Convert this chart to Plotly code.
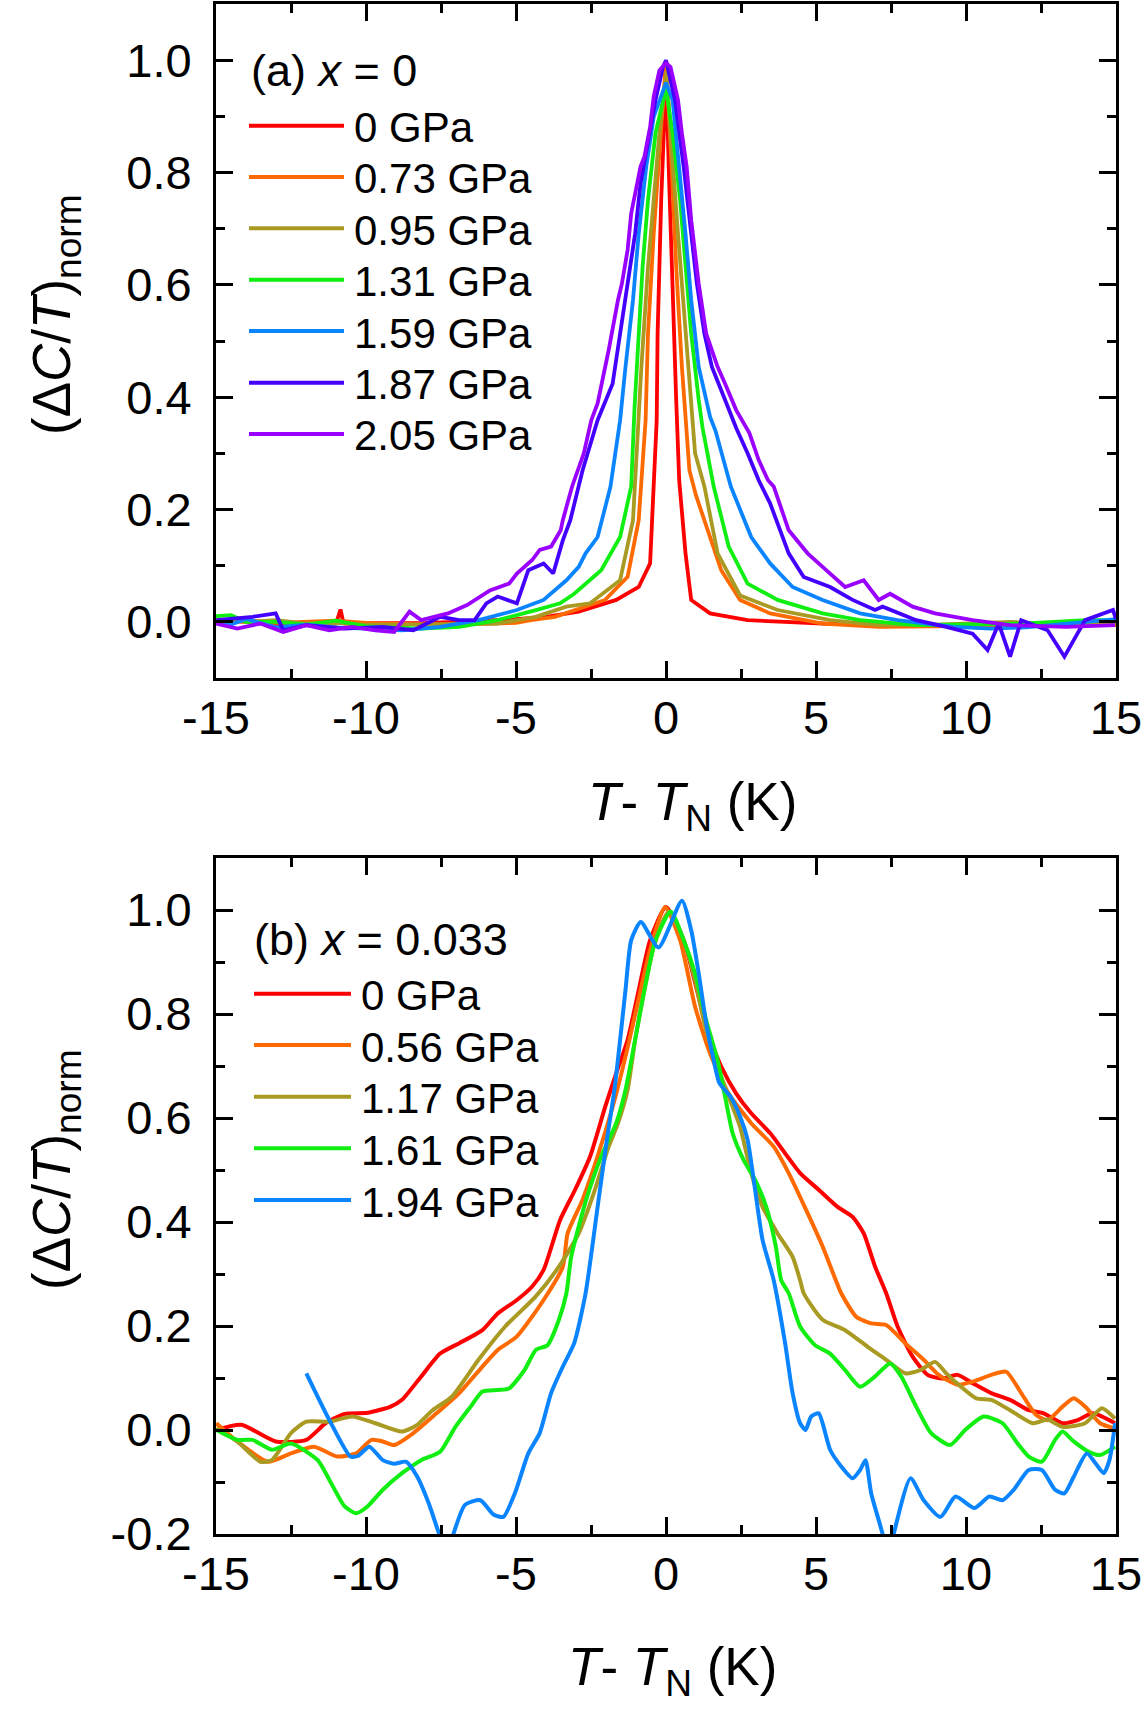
import plotly.graph_objects as go

# ---------------- data: panel (a) x = 0 ----------------
A_LABELS = ["0 GPa", "0.73 GPa", "0.95 GPa", "1.31 GPa", "1.59 GPa", "1.87 GPa", "2.05 GPa"]
A_COLORS = ["#FF0000", "#FF6A00", "#A89A22", "#11EE11", "#0A84FF", "#4400FF", "#9A00FF"]

A_X_000 = [-15, -14, -13, -12, -11, -10.85, -10.78, -10.7, -10, -9, -8, -7, -6, -5, -4, -2.91, -1.66,
           -0.91, -0.53, -0.31, -0.28, -0.16, -0.03, 0.0, 0.09, 0.22, 0.34, 0.44, 0.65, 0.84, 1.47,
           2.72, 5.22, 7.7, 10, 12, 15]
A_Y_000 = [0.003, 0.0, -0.005, -0.004, -0.003, 0.022, 0.005, -0.003, -0.003, -0.002, -0.002, 0.0,
           0.002, 0.005, 0.009, 0.018, 0.039, 0.062, 0.104, 0.359, 0.513, 0.751, 0.929, 1.0, 0.81,
           0.573, 0.395, 0.252, 0.122, 0.039, 0.015, 0.003, -0.003, -0.006, -0.005, -0.005, -0.005]

A_X_073 = [-15, -14, -13, -12, -11, -10, -9, -8, -7, -6, -5, -4.5, -3.7, -3.03, -2.03, -1.28, -0.91,
           -0.68, -0.6, -0.41, -0.18, 0.0, 0.19, 0.34, 0.53, 0.65, 0.78, 1.0, 1.34, 1.84, 2.47, 3.47,
           5.22, 7.09, 9, 11, 13, 15]
A_Y_073 = [0.0, 0.003, -0.002, 0.0, 0.002, -0.002, -0.004, -0.005, -0.005, -0.004, -0.002, 0.003,
           0.009, 0.021, 0.039, 0.080, 0.181, 0.359, 0.513, 0.691, 0.87, 1.0, 0.81, 0.632, 0.454,
           0.359, 0.27, 0.225, 0.17, 0.092, 0.039, 0.015, -0.003, -0.009, -0.008, -0.006, -0.006, -0.006]

A_X_095 = [-15, -14, -13, -12, -11, -10, -9, -8, -7, -5.61, -4.34, -3.32, -2.53, -1.53, -1.10, -0.92,
           -0.82, -0.6, -0.41, -0.22, 0.02, 0.15, 0.40, 0.65, 0.84, 0.97, 1.28, 1.72, 2.47, 3.72,
           5.47, 7.09, 9, 11.5, 13, 15]
A_Y_095 = [0.005, 0.0, 0.003, -0.003, -0.002, -0.005, -0.005, -0.004, -0.004, -0.003, 0.009, 0.027,
           0.033, 0.074, 0.181, 0.359, 0.454, 0.632, 0.751, 0.87, 0.98, 0.87, 0.691, 0.513, 0.38,
           0.30, 0.241, 0.122, 0.047, 0.021, 0.003, -0.006, -0.005, 0.0, -0.005, -0.003]

A_X_131 = [-15, -14.5, -14, -13, -12, -11, -10, -9, -8.16, -6.89, -5.61, -4.34, -3.53, -3.06, -2.16,
           -1.53, -1.16, -1.05, -0.91, -0.78, -0.6, -0.35, 0.0, 0.22, 0.47, 0.65, 0.84, 1.09, 1.22,
           1.59, 2.09, 2.72, 3.72, 5.22, 6.47, 8.34, 10, 12, 14, 15]
A_Y_131 = [0.01, 0.012, 0.0, 0.0, -0.005, 0.002, -0.008, -0.01, -0.012, -0.009, 0.003, 0.021, 0.033,
           0.050, 0.092, 0.151, 0.241, 0.38, 0.513, 0.632, 0.751, 0.87, 0.95, 0.87, 0.751, 0.632,
           0.513, 0.395, 0.345, 0.241, 0.134, 0.068, 0.039, 0.015, 0.003, -0.006, -0.005, -0.003,
           0.003, 0.003]

A_X_159 = [-15, -14.5, -14, -13, -12, -11, -10, -8.8, -7.53, -6.25, -4.97, -4.08, -3.32, -2.91, -2.68,
           -2.28, -1.85, -1.53, -1.35, -1.1, -0.91, -0.66, -0.41, 0.0, 0.22, 0.44, 0.65, 0.84, 1.09,
           1.47, 1.65, 2.16, 2.84, 3.47, 4.22, 5.22, 6.47, 7.72, 9.59, 10.84, 12, 13, 14, 15]
A_Y_159 = [0.0, -0.005, 0.005, -0.01, -0.005, -0.01, -0.012, -0.015, -0.009, 0.003, 0.021, 0.039,
           0.074, 0.098, 0.122, 0.151, 0.241, 0.359, 0.454, 0.573, 0.691, 0.81, 0.899, 0.96, 0.929,
           0.81, 0.691, 0.573, 0.454, 0.365, 0.34, 0.241, 0.151, 0.104, 0.062, 0.039, 0.015, 0.003,
           -0.009, -0.012, -0.01, -0.005, 0.0, 0.005]

A_X_187 = [-14.99, -13.78, -13.01, -12.76, -11.99, -10.71, -9.44, -8.42, -7.53, -6.89, -6.38, -5.99,
           -5.61, -4.97, -4.59, -4.08, -3.76, -3.44, -3.19, -2.78, -2.28, -1.78, -1.53, -1.28, -1.03,
           -0.85, -0.66, -0.53, -0.35, -0.1, 0.0, 0.30, 0.59, 0.84, 1.03, 1.28, 1.53, 1.97, 2.34,
           2.72, 3.09, 3.47, 4.09, 4.59, 5.47, 6.22, 6.97, 7.22, 8.34, 9.34, 10.22, 10.72, 11.09,
           11.47, 11.84, 12.72, 13.28, 13.97, 14.9, 15]
A_Y_187 = [0.003, 0.009, 0.015, -0.015, -0.006, -0.012, -0.009, -0.015, 0.009, 0.003, 0.003, 0.033,
           0.045, 0.033, 0.092, 0.104, 0.086, 0.145, 0.181, 0.270, 0.359, 0.424, 0.513, 0.602, 0.691,
           0.78, 0.84, 0.881, 0.929, 0.988, 1.0, 0.929, 0.81, 0.691, 0.602, 0.513, 0.454, 0.395,
           0.345, 0.30, 0.252, 0.211, 0.122, 0.080, 0.062, 0.039, 0.021, 0.027, 0.003, -0.009,
           -0.021, -0.050, -0.003, -0.062, 0.003, -0.015, -0.062, 0.003, 0.021, 0.005]

A_X_205 = [-15, -14.29, -13.52, -12.76, -11.99, -11.22, -10.46, -9.69, -9.06, -8.55, -8.16, -7.27,
           -6.63, -5.87, -5.23, -4.97, -4.46, -4.21, -3.83, -3.51, -3.44, -3.13, -2.74, -2.49, -2.28,
           -1.91, -1.6, -1.47, -1.28, -1.16, -0.85, -0.72, -0.53, -0.41, -0.22, 0.0, 0.15, 0.40,
           0.53, 0.69, 0.84, 1.09, 1.34, 1.72, 1.97, 2.34, 2.78, 3.09, 3.4, 3.59, 4.09, 4.72, 5.22,
           5.97, 6.59, 7.09, 7.47, 8.22, 8.97, 10.22, 11.47, 13.34, 14.97]
A_Y_205 = [-0.003, -0.012, -0.003, -0.018, -0.006, -0.015, -0.009, -0.015, -0.018, 0.018, 0.003,
           0.015, 0.030, 0.056, 0.068, 0.086, 0.110, 0.128, 0.134, 0.163, 0.181, 0.241, 0.300,
           0.359, 0.389, 0.484, 0.573, 0.602, 0.662, 0.727, 0.81, 0.828, 0.881, 0.935, 0.982,
           0.995, 0.988, 0.929, 0.87, 0.81, 0.715, 0.602, 0.513, 0.454, 0.424, 0.377, 0.336, 0.288,
           0.252, 0.241, 0.163, 0.122, 0.098, 0.062, 0.074, 0.039, 0.050, 0.027, 0.015, 0.003,
           -0.006, -0.009, -0.006]

# ---------------- data: panel (b) x = 0.033 ----------------
B_LABELS = ["0 GPa", "0.56 GPa", "1.17 GPa", "1.61 GPa", "1.94 GPa"]
B_COLORS = ["#FF0000", "#FF6A00", "#A89A22", "#11EE11", "#0A84FF"]

B_X_000 = [-14.99, -14.16, -13.01, -11.99, -11.35, -10.71, -9.95, -9.18, -8.80, -8.16, -7.53, -6.89,
           -6.12, -5.61, -4.97, -4.46, -4.08, -3.53, -3.03, -2.53, -2.03, -1.66, -1.28, -0.91, -0.53,
           0.0, 0.59, 1.03, 1.4, 1.84, 2.34, 2.84, 3.47, 3.97, 4.47, 5.09, 5.72, 6.22, 6.59, 6.97,
           7.34, 7.72, 8.22, 8.72, 9.22, 9.72, 10.22, 10.84, 11.47, 12.09, 12.59, 13.22, 13.72,
           14.22, 14.97]
B_Y_000 = [0.0, 0.010, -0.022, -0.019, 0.013, 0.031, 0.033, 0.045, 0.058, 0.103, 0.147, 0.167,
           0.192, 0.224, 0.25, 0.276, 0.308, 0.404, 0.462, 0.526, 0.621, 0.686, 0.75, 0.846, 0.942,
           1.006, 0.942, 0.846, 0.763, 0.699, 0.647, 0.609, 0.571, 0.532, 0.494, 0.462, 0.429, 0.41,
           0.378, 0.314, 0.263, 0.199, 0.141, 0.106, 0.099, 0.106, 0.09, 0.071, 0.058, 0.038, 0.032,
           0.013, 0.019, 0.032, 0.013]

B_X_056 = [-14.99, -14.29, -13.27, -12.5, -11.73, -10.97, -10.33, -9.82, -9.44, -9.06, -8.42, -7.65,
           -6.89, -6.12, -5.61, -4.97, -4.08, -3.44, -3.28, -2.78, -2.28, -1.78, -1.35, -0.97, -0.53,
           -0.03, 0.47, 0.97, 1.47, 2.09, 2.84, 3.59, 4.09, 4.72, 5.22, 5.66, 5.84, 6.34, 6.84, 7.34,
           7.97, 8.59, 9.09, 9.72, 10.22, 10.84, 11.34, 11.84, 12.34, 12.72, 13.22, 13.59, 13.97,
           14.47, 14.97]
B_Y_056 = [0.013, -0.022, -0.061, -0.045, -0.032, -0.051, -0.045, -0.019, -0.022, -0.029, -0.006,
           0.032, 0.071, 0.122, 0.154, 0.180, 0.250, 0.314, 0.378, 0.443, 0.526, 0.621, 0.718, 0.814,
           0.923, 1.006, 0.942, 0.814, 0.724, 0.647, 0.59, 0.545, 0.494, 0.417, 0.353, 0.288, 0.263,
           0.218, 0.205, 0.202, 0.167, 0.135, 0.106, 0.087, 0.093, 0.106, 0.112, 0.071, 0.029, 0.019,
           0.045, 0.061, 0.045, 0.013, 0.003]

B_X_117 = [-14.99, -14.29, -13.52, -13.14, -12.5, -11.99, -11.22, -10.46, -9.69, -8.80, -8.29, -7.78,
           -7.14, -6.25, -5.36, -4.34, -3.57, -2.91, -2.41, -1.91, -1.6, -1.28, -1.03, -0.72, -0.41,
           0.09, 0.59, 0.97, 1.28, 1.72, 2.09, 2.47, 2.84, 3.22, 3.72, 4.22, 4.47, 4.59, 5.22, 5.97,
           6.72, 7.34, 7.97, 8.47, 8.97, 9.34, 9.84, 10.34, 10.84, 11.47, 12.22, 12.72, 13.22, 13.97,
           14.53, 14.97]
B_Y_117 = [0.003, -0.022, -0.061, -0.058, -0.006, 0.016, 0.016, 0.026, 0.013, -0.003, 0.010, 0.038,
           0.064, 0.135, 0.199, 0.257, 0.314, 0.378, 0.455, 0.545, 0.59, 0.654, 0.75, 0.846, 0.929,
           0.997, 0.942, 0.865, 0.782, 0.699, 0.641, 0.583, 0.494, 0.429, 0.378, 0.333, 0.288, 0.263,
           0.212, 0.192, 0.160, 0.135, 0.109, 0.115, 0.131, 0.109, 0.083, 0.061, 0.058, 0.038, 0.013,
           0.020, 0.006, 0.013, 0.042, 0.022]

B_X_161 = [-14.99, -14.29, -13.78, -13.14, -12.5, -11.61, -11.22, -10.71, -10.33, -9.95, -9.44, -8.80,
           -8.16, -7.53, -7.02, -6.51, -6.12, -5.61, -5.23, -4.72, -4.34, -3.95, -3.57, -3.32, -3.16,
           -2.66, -2.16, -1.66, -1.35, -1.03, -0.72, -0.35, 0.16, 0.59, 0.97, 1.34, 1.72, 1.97, 2.22,
           2.59, 2.97, 3.34, 3.66, 3.84, 4.09, 4.47, 4.97, 5.47, 5.97, 6.47, 6.97, 7.47, 7.84, 8.34,
           8.84, 9.47, 9.97, 10.59, 11.22, 11.72, 12.09, 12.53, 12.97, 13.22, 13.59, 14.09, 14.47,
           14.97]
B_Y_161 = [0.0, -0.019, -0.019, -0.038, -0.026, -0.058, -0.096, -0.147, -0.160, -0.147, -0.115,
           -0.083, -0.058, -0.042, 0.006, 0.045, 0.074, 0.077, 0.080, 0.115, 0.154, 0.163, 0.212,
           0.263, 0.333, 0.443, 0.526, 0.59, 0.654, 0.75, 0.846, 0.942, 0.997, 0.942, 0.878, 0.788,
           0.711, 0.641, 0.571, 0.519, 0.481, 0.429, 0.353, 0.288, 0.263, 0.199, 0.163, 0.147, 0.115,
           0.083, 0.103, 0.128, 0.103, 0.045, -0.006, -0.029, 0.0, 0.026, 0.013, -0.026, -0.051,
           -0.061, -0.019, -0.003, -0.022, -0.042, -0.048, -0.032]

B_X_194 = [-11.99, -11.22, -10.52, -10.27, -9.89, -9.44, -9.06, -8.67, -8.29, -7.91, -7.53, -7.27,
           -7.08, -6.70, -6.19, -5.74, -5.42, -5.04, -4.59, -4.21, -3.83, -3.44, -3.06, -2.68, -2.28,
           -1.97, -1.72, -1.53, -1.35, -1.16, -0.84, -0.25, 0.53, 0.84, 1.09, 1.34, 1.59, 1.78, 2.15,
           2.47, 2.72, 2.97, 3.22, 3.59, 3.97, 4.22, 4.47, 4.65, 4.84, 5.09, 5.47, 5.84, 6.22, 6.47,
           6.65, 6.84, 7.22, 7.4, 7.59, 8.15, 8.59, 9.15, 9.65, 10.28, 10.78, 11.22, 11.59, 12.09,
           12.53, 12.97, 13.28, 13.59, 14.03, 14.59, 14.78, 14.97]
B_Y_194 = [0.109, 0.019, -0.051, -0.05, -0.032, -0.058, -0.065, -0.061, -0.09, -0.141, -0.205, -0.24,
           -0.199, -0.144, -0.135, -0.163, -0.167, -0.122, -0.045, -0.006, 0.071, 0.122, 0.167, 0.263,
           0.429, 0.558, 0.654, 0.75, 0.846, 0.942, 0.977, 0.928, 1.018, 0.961, 0.878, 0.782, 0.711,
           0.667, 0.641, 0.603, 0.558, 0.462, 0.365, 0.288, 0.167, 0.071, 0.013, 0.0, 0.026, 0.032,
           -0.038, -0.07, -0.093, -0.077, -0.058, -0.122, -0.2, -0.25, -0.2, -0.093, -0.135, -0.167,
           -0.128, -0.15, -0.128, -0.135, -0.115, -0.077, -0.077, -0.115, -0.122, -0.09, -0.045,
           -0.083, -0.058, 0.013]

X_TICKS = [-15, -10, -5, 0, 5, 10, 15]
X_TICKTEXT = ["-15", "-10", "-5", "0", "5", "10", "15"]
A_Y_TICKS = [0.0, 0.2, 0.4, 0.6, 0.8, 1.0]
A_Y_TICKTEXT = ["0.0", "0.2", "0.4", "0.6", "0.8", "1.0"]
B_Y_TICKS = [-0.2, 0.0, 0.2, 0.4, 0.6, 0.8, 1.0]
B_Y_TICKTEXT = ["-0.2", "0.0", "0.2", "0.4", "0.6", "0.8", "1.0"]

# ---------------- figure ----------------
W, H = 1148, 1713
FONT = "Liberation Sans, Arial, Helvetica, sans-serif"


def pxx(X):
    return X / W


def pxy(Y):
    return 1 - Y / H


fig = go.Figure()

A_SERIES = [(A_X_000, A_Y_000), (A_X_073, A_Y_073), (A_X_095, A_Y_095), (A_X_131, A_Y_131),
            (A_X_159, A_Y_159), (A_X_187, A_Y_187), (A_X_205, A_Y_205)]
for (xs, ys), name, col in zip(A_SERIES, A_LABELS, A_COLORS):
    fig.add_trace(go.Scatter(x=xs, y=ys, mode="lines", name=name, xaxis="x", yaxis="y",
                             line=dict(color=col, width=3.8)))

B_SERIES = [(B_X_000, B_Y_000), (B_X_056, B_Y_056), (B_X_117, B_Y_117), (B_X_161, B_Y_161),
            (B_X_194, B_Y_194)]
for (xs, ys), name, col in zip(B_SERIES, B_LABELS, B_COLORS):
    fig.add_trace(go.Scatter(x=xs, y=ys, mode="lines", name=name, xaxis="x2", yaxis="y2",
                             line=dict(color=col, width=4, shape="spline", smoothing=0.6)))


def axis_common():
    return dict(showline=True, linecolor="black", linewidth=3, mirror="allticks",
                ticks="inside", ticklen=17, tickwidth=2.5, tickcolor="black",
                showgrid=False, zeroline=False, automargin=False,
                tickfont=dict(family=FONT, size=47, color="black"))


def minor(dt):
    return dict(ticks="inside", ticklen=9, tickwidth=2.5, tickcolor="black", dtick=dt,
                tick0=0, showgrid=False)


x_dom = [pxx(216), pxx(1116)]
xa = axis_common()
xa.update(range=[-15, 15], tickvals=X_TICKS, ticktext=X_TICKTEXT, ticklabelstandoff=-3,
          minor=minor(2.5))
ya = axis_common()
ya.update(range=[-0.1, 1.1], tickvals=A_Y_TICKS, ticktext=A_Y_TICKTEXT, ticklabelstandoff=12,
          minor=minor(0.1))
xb = axis_common()
xb.update(range=[-15, 15], tickvals=X_TICKS, ticktext=X_TICKTEXT, ticklabelstandoff=-3,
          minor=minor(2.5))
yb = axis_common()
yb.update(range=[-0.2, 1.1], tickvals=B_Y_TICKS, ticktext=B_Y_TICKTEXT, ticklabelstandoff=12,
          minor=minor(0.1))

fig.update_layout(
    width=W, height=H, margin=dict(l=0, r=0, t=0, b=0, autoexpand=False),
    paper_bgcolor="white", plot_bgcolor="white", showlegend=False,
    xaxis=dict(domain=x_dom, anchor="y", **xa),
    yaxis=dict(domain=[pxy(678), pxy(4)], anchor="x", **ya),
    xaxis2=dict(domain=x_dom, anchor="y2", **xb),
    yaxis2=dict(domain=[pxy(1534), pxy(858)], anchor="x2", **yb),
)

annotations = []
shapes = []

# panel labels
annotations.append(dict(x=pxx(249), y=pxy(71), xref="paper", yref="paper", xanchor="left",
                        yanchor="middle", showarrow=False, text="(a) <i>x</i> = 0",
                        font=dict(family=FONT, size=45, color="black")))
annotations.append(dict(x=pxx(252), y=pxy(939), xref="paper", yref="paper", xanchor="left",
                        yanchor="middle", showarrow=False, text="(b) <i>x</i> = 0.033",
                        font=dict(family=FONT, size=45, color="black")))

# legends (drawn manually)
A_LEG_Y = [125.7, 177, 228.3, 279.7, 331, 382.7, 434]
for yy, name, col in zip(A_LEG_Y, A_LABELS, A_COLORS):
    shapes.append(dict(type="line", xref="paper", yref="paper", x0=pxx(249), x1=pxx(344),
                       y0=pxy(yy), y1=pxy(yy), line=dict(color=col, width=4)))
    annotations.append(dict(x=pxx(352), y=pxy(yy + 2), xref="paper", yref="paper",
                            xanchor="left", yanchor="middle", showarrow=False, text=name,
                            font=dict(family=FONT, size=42, color="black")))

B_LEG_Y = [993.7, 1045, 1096.7, 1148.3, 1200]
for yy, name, col in zip(B_LEG_Y, B_LABELS, B_COLORS):
    shapes.append(dict(type="line", xref="paper", yref="paper", x0=pxx(254), x1=pxx(351),
                       y0=pxy(yy), y1=pxy(yy), line=dict(color=col, width=4)))
    annotations.append(dict(x=pxx(359), y=pxy(yy + 2), xref="paper", yref="paper",
                            xanchor="left", yanchor="middle", showarrow=False, text=name,
                            font=dict(family=FONT, size=42, color="black")))

# axis titles
XT = "<i>T</i>- <i>T</i><sub>N</sub> (K)"
YT = "(Δ<i>C</i>/<i>T</i>)<sub>norm</sub>"
annotations.append(dict(x=pxx(692), y=pxy(805), xref="paper", yref="paper", xanchor="center",
                        yanchor="middle", showarrow=False, text=XT,
                        font=dict(family=FONT, size=53, color="black")))
annotations.append(dict(x=pxx(672), y=pxy(1670), xref="paper", yref="paper", xanchor="center",
                        yanchor="middle", showarrow=False, text=XT,
                        font=dict(family=FONT, size=53, color="black")))
annotations.append(dict(x=pxx(55), y=pxy(315), xref="paper", yref="paper", xanchor="center",
                        yanchor="middle", showarrow=False, text=YT, textangle=-90,
                        font=dict(family=FONT, size=53, color="black")))
annotations.append(dict(x=pxx(55), y=pxy(1170), xref="paper", yref="paper", xanchor="center",
                        yanchor="middle", showarrow=False, text=YT, textangle=-90,
                        font=dict(family=FONT, size=53, color="black")))

fig.update_layout(annotations=annotations, shapes=shapes)
fig.write_html("out.html")
